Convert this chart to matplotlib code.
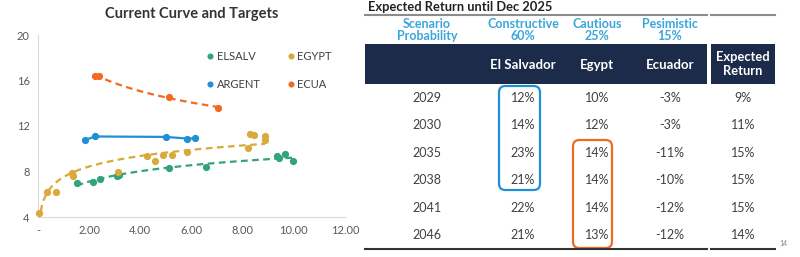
import numpy as np
import matplotlib
matplotlib.use('Agg')
import matplotlib.pyplot as plt
from matplotlib.patches import Rectangle, FancyBboxPatch

plt.rcParams['font.family'] = ['Lato', 'DejaVu Sans']

W, H = 800, 257

# scatter data: (maturity, yield)
elsalv_x = [1.51, 2.16, 2.42, 3.10, 3.15, 5.13, 6.57, 9.33, 9.43, 9.66, 9.96]
elsalv_y = [7.02, 7.10, 7.31, 7.60, 7.70, 8.28, 8.42, 9.36, 9.16, 9.56, 8.92]
egypt_x = [0.05, 0.36, 0.70, 1.32, 1.36, 3.14, 4.25, 4.57, 4.90, 5.23, 5.81,
           8.22, 8.29, 8.44, 8.87, 8.87]
egypt_y = [4.33, 6.22, 6.22, 7.84, 7.63, 7.98, 9.39, 8.95, 9.45, 9.45, 9.74,
           10.04, 11.27, 11.20, 11.12, 10.80]
argent_x = [1.84, 2.23, 5.00, 5.81, 6.14]
argent_y = [10.77, 11.08, 11.04, 10.90, 10.91]
ecua_x = [2.23, 2.40, 5.13, 7.05]
ecua_y = [16.42, 16.39, 14.52, 13.61]

# table data
years = ['2029', '2030', '2035', '2038', '2041', '2046']
el_salvador = ['12%', '14%', '23%', '21%', '22%', '21%']
egypt = ['10%', '12%', '14%', '14%', '14%', '13%']
ecuador = ['-3%', '-3%', '-11%', '-10%', '-12%', '-12%']
expected = ['9%', '11%', '15%', '15%', '15%', '14%']
scenarios = ['Scenario\nProbability', 'Constructive\n60%', 'Cautious\n25%', 'Pesimistic\n15%']
headers = ['El Salvador', 'Egypt', 'Ecuador']

GREEN = '#33a37a'
GOLD = '#d9a93b'
BLUE = '#1f8fd6'
ORANGE = '#f26a21'
NAVY = '#1c2b4a'
LBLUE = '#3aa6dc'
TXT = '#404040'


def fx(px):
    return px / W


def fy(py):
    return 1 - py / H


def log_trend(ax, xs, ys, color):
    xs = np.array(xs)
    a, b = np.polyfit(np.log(xs), ys, 1)
    xx = np.linspace(xs.min(), xs.max(), 100)
    ax.plot(xx, a * np.log(xx) + b, color=color, lw=1.6, ls=(0, (3, 2)), zorder=2)


fig = plt.figure(figsize=(W / 100, H / 100), dpi=100)
ax = fig.add_axes([fx(38), fy(217), (345 - 38) / W, (217 - 35) / H])

handles = {}
for xs, ys, c, lab in [(elsalv_x, elsalv_y, GREEN, 'ELSALV'),
                       (egypt_x, egypt_y, GOLD, 'EGYPT'),
                       (argent_x, argent_y, BLUE, 'ARGENT'),
                       (ecua_x, ecua_y, ORANGE, 'ECUA')]:
    handles[lab] = ax.plot(xs, ys, 'o', color=c, ms=4.2, label=lab,
                           clip_on=False, zorder=3)[0]

log_trend(ax, elsalv_x, elsalv_y, GREEN)
log_trend(ax, egypt_x, egypt_y, GOLD)
log_trend(ax, ecua_x, ecua_y, ORANGE)
ax.plot(argent_x, argent_y, '-', color=BLUE, lw=1.6, zorder=2)

ax.set_xlim(0, 12)
ax.set_ylim(4, 20)
ax.set_xticks(range(0, 13, 2))
ax.set_xticklabels(['-'] + ['%.2f' % v for v in range(2, 13, 2)])
ax.set_yticks([4, 8, 12, 16, 20])
ax.tick_params(length=0, labelsize=8, colors='#595959', pad=6)
for s in ['top', 'right']:
    ax.spines[s].set_visible(False)
for s in ['left', 'bottom']:
    ax.spines[s].set_color('#d9d9d9')
ax.set_title('Current Curve and Targets', fontsize=10.5, fontweight='bold',
             color='#333333', pad=12)
order = ['ELSALV', 'ARGENT', 'EGYPT', 'ECUA']
ax.legend([handles[k] for k in order], order, ncol=2, loc='upper right',
          bbox_to_anchor=(0.99, 0.965), frameon=False,
          fontsize=8, handletextpad=0.1, markerscale=0.8, columnspacing=2.2,
          labelspacing=1.5, labelcolor='#404040', handlelength=1.0)

# table
fig.text(fx(368), fy(7), 'Expected Return until Dec 2025', fontsize=9.3,
         fontweight='bold', color='#222222', va='center', ha='left')
for x0, x1 in [(365, 707), (711, 775)]:
    fig.add_artist(plt.Line2D([fx(x0), fx(x1)], [fy(15), fy(15)], color='#8c8c8c', lw=1.5))
    fig.add_artist(plt.Line2D([fx(x0), fx(x1)], [fy(249), fy(249)], color='#333333', lw=1.5))
    fig.add_artist(Rectangle((fx(x0), fy(84)), fx(x1 - x0), (84 - 44) / H,
                             color=NAVY, lw=0))

col_x = [427, 523, 597, 670]
for cx, s in zip(col_x, scenarios):
    fig.text(fx(cx), fy(30), s, fontsize=9, fontweight='bold', color=LBLUE,
             ha='center', va='center', linespacing=1.05)
for cx, s in zip(col_x[1:], headers):
    fig.text(fx(cx), fy(65), s, fontsize=9.5, fontweight='bold', color='white',
             ha='center', va='center')
fig.text(fx(743), fy(64), 'Expected\nReturn', fontsize=9.3, fontweight='bold',
         color='white', ha='center', va='center', linespacing=1.15)

row_y = [98, 125, 153, 180, 208, 235]
for i, ry in enumerate(row_y):
    for cx, col in zip(col_x + [743], [years, el_salvador, egypt, ecuador, expected]):
        fig.text(fx(cx), fy(ry), col[i], fontsize=9, color=TXT,
                 ha='center', va='center')

fig.add_artist(FancyBboxPatch((fx(499), fy(190)), fx(540 - 499), (190 - 86) / H,
                              boxstyle='round,pad=0,rounding_size=0.008',
                              fill=False, ec=BLUE, lw=1.6, mutation_aspect=W / H))
fig.add_artist(FancyBboxPatch((fx(573), fy(248)), fx(612 - 573), (248 - 140) / H,
                              boxstyle='round,pad=0,rounding_size=0.008',
                              fill=False, ec=ORANGE, lw=1.6, mutation_aspect=W / H))
fig.text(fx(779), fy(243), '14', fontsize=5, color='#808080', ha='left', va='center')

fig.savefig('out.png', dpi=100)
